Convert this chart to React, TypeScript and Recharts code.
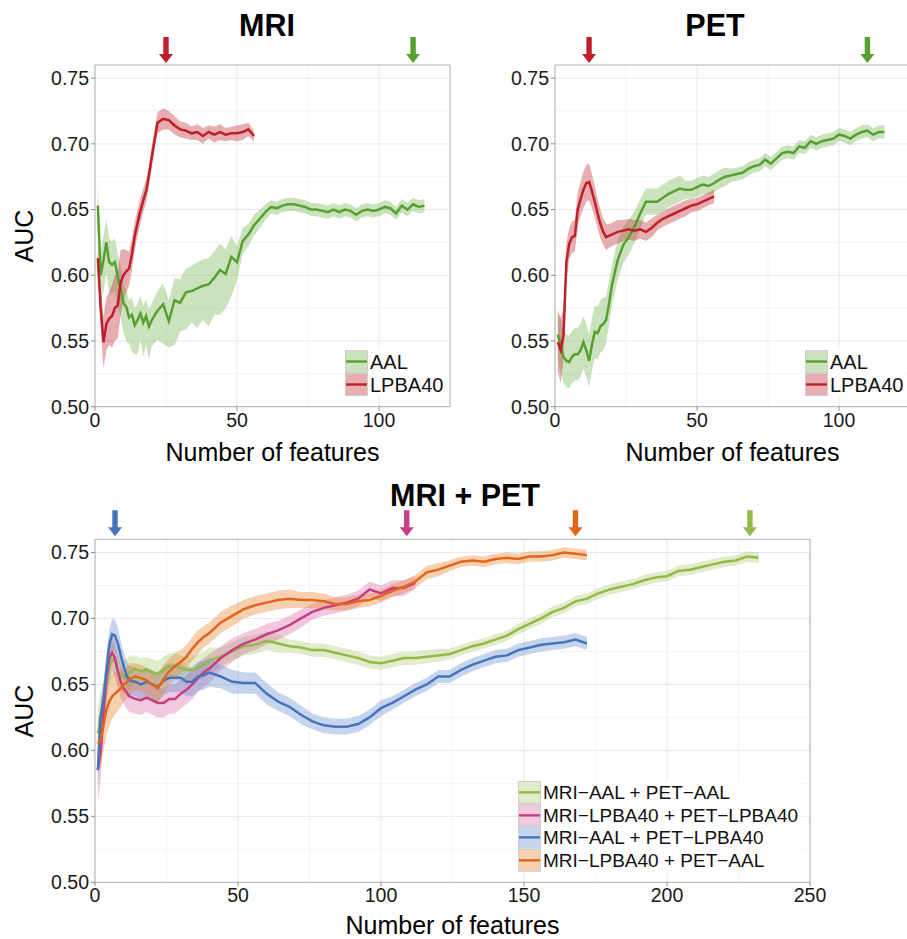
import React from 'react'
import {
  ComposedChart,
  Line,
  Area,
  XAxis,
  YAxis,
  CartesianGrid,
  ReferenceArea,
  ReferenceDot,
} from 'recharts'

const FONT = '"Liberation Sans", Arial, Helvetica, sans-serif'

// Feature counts sampled along the single-modality curves
const singleX = [
  1, 2, 3, 4, 5, 6, 7, 8, 9, 10, 11, 12, 13, 14, 15, 16, 17, 18, 19, 20,
  22, 24, 26, 28, 30, 32, 34, 36, 38, 40, 42, 44, 46, 48, 50, 52, 54, 56, 58, 60,
  62, 64, 66, 68, 70, 72, 74, 76, 78, 80, 82, 84, 86, 88, 90, 92, 94, 96, 98, 100,
  102, 104, 106, 108, 110, 112, 114, 116,
]

// Feature counts sampled along the combined curves
const comboX = [
  1, 2, 3, 4, 5, 6, 7, 8, 9, 10, 11, 12,
  14, 16, 18, 20, 22, 24, 26, 28, 30, 32, 34, 36, 38, 40,
  44, 48, 52, 56, 60, 64, 68, 72, 76, 80, 84, 88, 92, 96, 100, 104, 108, 112, 116, 120,
  124, 128, 132, 136, 140, 144, 148, 152, 156, 160, 164, 168, 172, 176, 180, 184, 188, 192, 196, 200,
  204, 208, 212, 216, 220, 224, 228, 232,
]

// MRI – AAL
const mriAal = [
  0.653, 0.600, 0.612, 0.625, 0.610, 0.608, 0.610, 0.599, 0.590, 0.579, 0.576, 0.568, 0.570, 0.562, 0.566, 0.571, 0.564, 0.569, 0.561, 0.566,
  0.573, 0.578, 0.565, 0.581, 0.579, 0.587, 0.588, 0.590, 0.592, 0.593, 0.598, 0.604, 0.601, 0.614, 0.610, 0.626, 0.631, 0.638, 0.643, 0.648,
  0.652, 0.651, 0.653, 0.654, 0.654, 0.653, 0.652, 0.650, 0.650, 0.649, 0.648, 0.650, 0.648, 0.650, 0.649, 0.646, 0.649, 0.650, 0.649, 0.650,
  0.652, 0.651, 0.647, 0.653, 0.650, 0.654, 0.652, 0.653,
]
const mriAalUp = [
  0.018, 0.018, 0.018, 0.018, 0.018, 0.018, 0.018, 0.018, 0.018, 0.013, 0.013, 0.013, 0.013, 0.013, 0.013, 0.013, 0.013, 0.013, 0.013, 0.013,
  0.015, 0.016, 0.016, 0.017, 0.018, 0.018, 0.019, 0.020, 0.020, 0.020, 0.020, 0.020, 0.019, 0.016, 0.012, 0.010, 0.008, 0.008, 0.007, 0.006,
  0.005, 0.005, 0.005, 0.005, 0.005, 0.005, 0.005, 0.005, 0.005, 0.005, 0.005, 0.005, 0.005, 0.005, 0.005, 0.005, 0.005, 0.005, 0.005, 0.005,
  0.005, 0.005, 0.005, 0.005, 0.005, 0.005, 0.005, 0.005,
]
const mriAalDown = [
  0.018, 0.022, 0.024, 0.024, 0.023, 0.022, 0.022, 0.022, 0.022, 0.022, 0.026, 0.020, 0.028, 0.022, 0.026, 0.020, 0.026, 0.022, 0.025, 0.020,
  0.022, 0.030, 0.020, 0.034, 0.022, 0.028, 0.024, 0.030, 0.026, 0.032, 0.028, 0.034, 0.026, 0.030, 0.014, 0.010, 0.009, 0.008, 0.007, 0.006,
  0.005, 0.005, 0.005, 0.005, 0.005, 0.005, 0.005, 0.005, 0.005, 0.005, 0.005, 0.005, 0.005, 0.005, 0.005, 0.005, 0.005, 0.005, 0.005, 0.005,
  0.005, 0.005, 0.005, 0.005, 0.005, 0.005, 0.005, 0.005,
]

// MRI – LPBA40
const mriLpba = [
  0.613, 0.575, 0.549, 0.563, 0.567, 0.569, 0.575, 0.577, 0.594, 0.600, 0.603, 0.605, 0.616, 0.630, 0.640, 0.649, 0.657, 0.664, 0.676, 0.690,
  0.716, 0.719, 0.718, 0.714, 0.711, 0.710, 0.708, 0.709, 0.706, 0.709, 0.707, 0.709, 0.707, 0.708, 0.708, 0.709, 0.711, 0.706,
]
const mriLpbaW = [
  0.010, 0.015, 0.020, 0.020, 0.020, 0.024, 0.025, 0.025, 0.025, 0.020, 0.016, 0.013, 0.012, 0.011, 0.010, 0.010, 0.009, 0.009, 0.008, 0.008,
  0.008, 0.008, 0.007, 0.007, 0.006, 0.006, 0.005, 0.006, 0.006, 0.005, 0.006, 0.006, 0.005, 0.005, 0.006, 0.006, 0.005, 0.004,
]

// PET – AAL
const petAal = [
  0.555, 0.546, 0.538, 0.535, 0.534, 0.538, 0.540, 0.540, 0.543, 0.549, 0.543, 0.535, 0.547, 0.557, 0.556, 0.561, 0.563, 0.566, 0.578, 0.592,
  0.611, 0.623, 0.629, 0.637, 0.647, 0.656, 0.656, 0.656, 0.659, 0.662, 0.664, 0.666, 0.665, 0.665, 0.667, 0.669, 0.668, 0.670, 0.673, 0.675,
  0.676, 0.677, 0.678, 0.681, 0.683, 0.684, 0.688, 0.685, 0.689, 0.693, 0.694, 0.693, 0.698, 0.697, 0.702, 0.700, 0.702, 0.703, 0.704, 0.707,
  0.706, 0.704, 0.707, 0.709, 0.710, 0.707, 0.709, 0.709,
]
const petAalW = [
  0.020, 0.020, 0.020, 0.020, 0.020, 0.020, 0.020, 0.020, 0.020, 0.020, 0.020, 0.020, 0.020, 0.020, 0.020, 0.020, 0.020, 0.018, 0.017, 0.016,
  0.015, 0.014, 0.013, 0.012, 0.011, 0.010, 0.010, 0.010, 0.010, 0.010, 0.010, 0.010, 0.007, 0.007, 0.007, 0.007, 0.007, 0.007, 0.007, 0.007,
  0.005, 0.005, 0.005, 0.005, 0.005, 0.005, 0.005, 0.005, 0.005, 0.005, 0.005, 0.005, 0.005, 0.005, 0.005, 0.005, 0.005, 0.005, 0.005, 0.005,
  0.005, 0.005, 0.005, 0.005, 0.005, 0.005, 0.005, 0.005,
]

// PET – LPBA40
const petLpba = [
  0.549, 0.543, 0.555, 0.610, 0.624, 0.629, 0.630, 0.650, 0.658, 0.665, 0.670, 0.671, 0.664, 0.656, 0.647, 0.639, 0.633, 0.629, 0.630, 0.631,
  0.633, 0.634, 0.635, 0.634, 0.635, 0.633, 0.636, 0.640, 0.643, 0.645, 0.647, 0.649, 0.651, 0.653, 0.654, 0.656, 0.658, 0.660,
]
const petLpbaW = [
  0.022, 0.025, 0.020, 0.015, 0.012, 0.012, 0.012, 0.013, 0.013, 0.014, 0.014, 0.014, 0.013, 0.012, 0.011, 0.011, 0.010, 0.010, 0.009, 0.009,
  0.009, 0.008, 0.008, 0.008, 0.007, 0.007, 0.007, 0.006, 0.006, 0.006, 0.006, 0.006, 0.006, 0.005, 0.005, 0.005, 0.005, 0.005,
]

// MRI-AAL + PET-AAL
const aalAal = [
  0.613, 0.625, 0.636, 0.650, 0.663, 0.669, 0.667, 0.660, 0.657, 0.656, 0.656, 0.659,
  0.662, 0.660, 0.661, 0.659, 0.658, 0.661, 0.664, 0.664, 0.662, 0.661, 0.661, 0.663, 0.665, 0.668,
  0.671, 0.675, 0.679, 0.680, 0.683, 0.681, 0.679, 0.678, 0.676, 0.676, 0.674, 0.672, 0.670, 0.667, 0.666, 0.668, 0.670, 0.670, 0.671, 0.672,
  0.673, 0.676, 0.679, 0.681, 0.684, 0.687, 0.692, 0.696, 0.700, 0.705, 0.708, 0.713, 0.715, 0.719, 0.722, 0.724, 0.726, 0.729, 0.731, 0.732,
  0.736, 0.737, 0.739, 0.741, 0.743, 0.744, 0.747, 0.746,
]
const aalAalW = [
  0.020, 0.020, 0.018, 0.016, 0.014, 0.013, 0.013, 0.013, 0.013, 0.013, 0.013, 0.013,
  0.010, 0.010, 0.010, 0.010, 0.010, 0.010, 0.010, 0.010, 0.010, 0.010, 0.010, 0.010, 0.010, 0.010,
  0.007, 0.007, 0.007, 0.007, 0.007, 0.007, 0.005, 0.005, 0.005, 0.005, 0.005, 0.005, 0.005, 0.005, 0.005, 0.005, 0.005, 0.005, 0.005, 0.005,
  0.004, 0.004, 0.004, 0.004, 0.004, 0.004, 0.004, 0.004, 0.004, 0.004, 0.004, 0.004, 0.004, 0.004, 0.004, 0.004, 0.004, 0.004, 0.004, 0.004,
  0.004, 0.004, 0.004, 0.004, 0.004, 0.004, 0.004, 0.004,
]

// MRI-LPBA40 + PET-LPBA40
const lpbaLpba = [
  0.585, 0.600, 0.630, 0.655, 0.670, 0.674, 0.670, 0.660, 0.652, 0.647, 0.644, 0.641,
  0.639, 0.638, 0.640, 0.638, 0.636, 0.636, 0.639, 0.639, 0.643, 0.646, 0.650, 0.655, 0.659, 0.662,
  0.670, 0.676, 0.681, 0.684, 0.688, 0.691, 0.695, 0.700, 0.705, 0.708, 0.710, 0.712, 0.715, 0.722, 0.719, 0.723, 0.723, 0.727,
]
const lpbaLpbaW = [
  0.025, 0.022, 0.020, 0.018, 0.016, 0.014, 0.013, 0.012, 0.012, 0.012, 0.012, 0.012,
  0.011, 0.011, 0.011, 0.011, 0.011, 0.011, 0.011, 0.011, 0.011, 0.011, 0.011, 0.011, 0.011, 0.011,
  0.009, 0.009, 0.008, 0.008, 0.008, 0.007, 0.007, 0.007, 0.006, 0.006, 0.006, 0.006, 0.006, 0.006, 0.006, 0.006, 0.006, 0.005,
]

// MRI-AAL + PET-LPBA40
const aalLpba = [
  0.585, 0.626, 0.640, 0.660, 0.680, 0.688, 0.687, 0.681, 0.672, 0.664, 0.657, 0.653,
  0.652, 0.650, 0.652, 0.650, 0.648, 0.653, 0.655, 0.655, 0.655, 0.652, 0.652, 0.656, 0.657, 0.659,
  0.656, 0.652, 0.651, 0.651, 0.643, 0.637, 0.633, 0.627, 0.622, 0.619, 0.618, 0.618, 0.620, 0.625, 0.632, 0.636, 0.641, 0.646, 0.650, 0.656,
  0.656, 0.661, 0.665, 0.668, 0.671, 0.672, 0.676, 0.678, 0.680, 0.681, 0.682, 0.684, 0.681,
]
const aalLpbaW = [
  0.015, 0.012, 0.012, 0.012, 0.012, 0.012, 0.012, 0.012, 0.011, 0.011, 0.011, 0.011,
  0.011, 0.011, 0.011, 0.011, 0.011, 0.011, 0.011, 0.011, 0.011, 0.011, 0.011, 0.011, 0.011, 0.011,
  0.009, 0.009, 0.008, 0.008, 0.008, 0.007, 0.007, 0.007, 0.006, 0.006, 0.006, 0.006, 0.006, 0.006, 0.006, 0.005, 0.005, 0.005, 0.005, 0.005,
  0.005, 0.005, 0.005, 0.005, 0.005, 0.005, 0.005, 0.005, 0.005, 0.005, 0.005, 0.005, 0.005,
]

// MRI-LPBA40 + PET-AAL
const lpbaAal = [
  0.605, 0.608, 0.620, 0.631, 0.637, 0.641, 0.643, 0.645, 0.647, 0.650, 0.651, 0.654,
  0.656, 0.655, 0.653, 0.650, 0.647, 0.654, 0.660, 0.664, 0.667, 0.671, 0.677, 0.682, 0.686, 0.689,
  0.697, 0.702, 0.707, 0.710, 0.712, 0.714, 0.715, 0.714, 0.714, 0.713, 0.711, 0.711, 0.713, 0.714, 0.717, 0.721, 0.724, 0.728, 0.735, 0.737,
  0.740, 0.743, 0.744, 0.743, 0.745, 0.746, 0.745, 0.747, 0.747, 0.748, 0.750, 0.749, 0.748,
]
const lpbaAalW = [
  0.020, 0.020, 0.020, 0.020, 0.018, 0.017, 0.016, 0.015, 0.014, 0.013, 0.012, 0.012,
  0.010, 0.010, 0.010, 0.010, 0.011, 0.011, 0.010, 0.010, 0.009, 0.009, 0.009, 0.009, 0.008, 0.008,
  0.008, 0.008, 0.007, 0.007, 0.007, 0.007, 0.007, 0.006, 0.006, 0.006, 0.005, 0.005, 0.005, 0.005, 0.005, 0.005, 0.005, 0.005, 0.005, 0.005,
  0.004, 0.004, 0.004, 0.004, 0.004, 0.004, 0.004, 0.004, 0.004, 0.004, 0.004, 0.004, 0.004,
]

const aucTicks = [0.5, 0.55, 0.6, 0.65, 0.7, 0.75]
const aucMinor = [0.525, 0.575, 0.625, 0.675, 0.725]
const singleTicks = [0, 50, 100]
const singleMinor = [25, 75, 125]
const comboTicks = [0, 50, 100, 150, 200, 250]
const comboMinor = [25, 75, 125, 175, 225]

// arrows mark the best number of features
const mriArrowX = [25, 112]
const petArrowX = [12, 110]
const comboArrowX = [7, 109, 168, 229]

const GREEN = '#56a02f'
const RED = '#be1f28'
const OLIVE = '#93ba48'
const PINK = '#c73e84'
const BLUE = '#4675be'
const ORANGE = '#e0661b'

interface Series {
  key: string
  name: string
  ys: number[]
  up: number[]
  down?: number[]
  line: string
  band: string
  bandOpacity: number
}

function buildRows(xs: number[], series: Series[]) {
  return xs.map((x, i) => {
    const row: Record<string, unknown> = { x }
    series.forEach((s) => {
      if (i < s.ys.length) {
        const lo = (s.down ?? s.up)[i]
        row[s.key] = s.ys[i]
        row[s.key + 'Band'] = [s.ys[i] - lo, s.ys[i] + s.up[i]]
      }
    })
    return row
  })
}

function arrowShape(color: string, gap: number) {
  return (props: any) => {
    const { cx, cy } = props
    const tip = cy - gap
    const top = tip - 26
    const neck = tip - 9
    const d = `M${cx - 2.7},${top} L${cx + 2.7},${top} L${cx + 2.7},${neck} L${cx + 7},${neck} L${cx},${tip} L${cx - 7},${neck} L${cx - 2.7},${neck} Z`
    return <path d={d} fill={color} />
  }
}

interface PanelProps {
  left: number
  top: number
  width: number
  height: number
  margin: { top: number; right: number; bottom: number; left: number }
  xs: number[]
  series: Series[]
  xMax: number
  xTicks: number[]
  xMinor: number[]
  arrows: { x: number; color: string }[]
  arrowGap: number
}

function Panel(p: PanelProps) {
  const rows = buildRows(p.xs, p.series)
  const tickStyle = { fontSize: 19.5, fill: '#1a1a1a', fontFamily: FONT }
  return (
    <div style={{ position: 'absolute', left: p.left, top: p.top }}>
      <ComposedChart width={p.width} height={p.height} data={rows} margin={p.margin}>
        <CartesianGrid horizontalValues={aucMinor} verticalValues={p.xMinor} stroke="#f4f4f4" />
        <CartesianGrid horizontalValues={aucTicks} verticalValues={p.xTicks} stroke="#e8e8e8" />
        <XAxis
          type="number"
          dataKey="x"
          domain={[0, p.xMax]}
          ticks={p.xTicks}
          allowDataOverflow
          height={30}
          tick={tickStyle}
          tickSize={4}
          tickMargin={2}
          tickLine={{ stroke: '#8a8a8a' }}
          axisLine={false}
        />
        <YAxis
          type="number"
          domain={[0.5, 0.76]}
          ticks={aucTicks}
          allowDataOverflow
          width={60}
          tick={tickStyle}
          tickSize={4}
          tickMargin={2}
          tickLine={{ stroke: '#8a8a8a' }}
          axisLine={false}
          tickFormatter={(v: number) => v.toFixed(2)}
        />
        {p.series.map((s) => (
          <Area
            key={s.key + 'Band'}
            type="linear"
            dataKey={s.key + 'Band'}
            stroke="none"
            fill={s.band}
            fillOpacity={s.bandOpacity}
            isAnimationActive={false}
            activeDot={false}
          />
        ))}
        {p.series.map((s) => (
          <Line
            key={s.key}
            type="linear"
            dataKey={s.key}
            stroke={s.line}
            strokeWidth={2.5}
            dot={false}
            activeDot={false}
            isAnimationActive={false}
          />
        ))}
        <ReferenceArea
          x1={0}
          x2={p.xMax}
          y1={0.5}
          y2={0.76}
          fill="none"
          stroke="#b3b3b3"
          strokeWidth={1}
          ifOverflow="visible"
        />
        {p.arrows.map((a) => (
          <ReferenceDot
            key={a.x}
            x={a.x}
            y={0.76}
            r={0}
            ifOverflow="visible"
            shape={arrowShape(a.color, p.arrowGap)}
          />
        ))}
      </ComposedChart>
    </div>
  )
}

function LegendBox({ left, top, rowH, fontSize, items }: { left: number; top: number; rowH: number; fontSize: number; items: Series[] }) {
  return (
    <div
      style={{
        position: 'absolute',
        left,
        top,
        background: '#fff',
        fontFamily: FONT,
        fontSize,
        color: '#111',
        paddingRight: 3,
      }}
    >
      {items.map((it) => (
        <div key={it.key} style={{ display: 'flex', alignItems: 'center', height: rowH }}>
          <svg width={23} height={rowH} style={{ display: 'block' }}>
            <rect
              x={0.5}
              y={0.5}
              width={22}
              height={rowH - 1}
              fill={it.band}
              fillOpacity={it.bandOpacity}
              stroke="#cfcfcf"
              strokeWidth={1}
            />
            <line x1={1} x2={22} y1={rowH / 2} y2={rowH / 2} stroke={it.line} strokeWidth={2.4} />
          </svg>
          <span style={{ marginLeft: 2, whiteSpace: 'nowrap', lineHeight: 1 }}>{it.name}</span>
        </div>
      ))}
    </div>
  )
}

function Text({ x, y, size, bold, rotate, children }: { x: number; y: number; size: number; bold?: boolean; rotate?: boolean; children: React.ReactNode }) {
  return (
    <div
      style={{
        position: 'absolute',
        left: x,
        top: y,
        transform: `translate(-50%, -50%)${rotate ? ' rotate(-90deg)' : ''}`,
        fontFamily: FONT,
        fontSize: size,
        fontWeight: bold ? 700 : 400,
        lineHeight: 1,
        whiteSpace: 'nowrap',
        color: '#000',
      }}
    >
      {children}
    </div>
  )
}

export default function App() {
  const mriSeries: Series[] = [
    { key: 'aal', name: 'AAL', ys: mriAal, up: mriAalUp, down: mriAalDown, line: GREEN, band: '#6bb043', bandOpacity: 0.35 },
    { key: 'lpba', name: 'LPBA40', ys: mriLpba, up: mriLpbaW, line: RED, band: '#c2343c', bandOpacity: 0.4 },
  ]
  const petSeries: Series[] = [
    { key: 'aal', name: 'AAL', ys: petAal, up: petAalW, line: GREEN, band: '#6bb043', bandOpacity: 0.35 },
    { key: 'lpba', name: 'LPBA40', ys: petLpba, up: petLpbaW, line: RED, band: '#c2343c', bandOpacity: 0.4 },
  ]
  const comboSeries: Series[] = [
    { key: 'aa', name: 'MRI−AAL + PET−AAL', ys: aalAal, up: aalAalW, line: OLIVE, band: '#a5c866', bandOpacity: 0.35 },
    { key: 'll', name: 'MRI−LPBA40 + PET−LPBA40', ys: lpbaLpba, up: lpbaLpbaW, line: PINK, band: '#d760a0', bandOpacity: 0.35 },
    { key: 'al', name: 'MRI−AAL + PET−LPBA40', ys: aalLpba, up: aalLpbaW, line: BLUE, band: '#5b88cc', bandOpacity: 0.35 },
    { key: 'la', name: 'MRI−LPBA40 + PET−AAL', ys: lpbaAal, up: lpbaAalW, line: ORANGE, band: '#ea8a3a', bandOpacity: 0.4 },
  ]
  const singleColors = [RED, GREEN]
  const comboColors = [BLUE, PINK, ORANGE, OLIVE]

  return (
    <div style={{ position: 'absolute', left: 0, top: 0, width: 907, height: 939, overflow: 'hidden', background: '#fff' }}>
      <Panel
        left={0}
        top={0}
        width={460}
        height={470}
        margin={{ top: 65, right: 10, bottom: 33.3, left: 35 }}
        xs={singleX}
        series={mriSeries}
        xMax={125}
        xTicks={singleTicks}
        xMinor={singleMinor}
        arrows={mriArrowX.map((x, i) => ({ x, color: singleColors[i] }))}
        arrowGap={2}
      />
      <Panel
        left={460}
        top={0}
        width={460}
        height={470}
        margin={{ top: 65, right: 10, bottom: 33.3, left: 35 }}
        xs={singleX}
        series={petSeries}
        xMax={125}
        xTicks={singleTicks}
        xMinor={singleMinor}
        arrows={petArrowX.map((x, i) => ({ x, color: singleColors[i] }))}
        arrowGap={2}
      />
      <Panel
        left={0}
        top={470}
        width={907}
        height={469}
        margin={{ top: 69.3, right: 97, bottom: 26.7, left: 35 }}
        xs={comboX}
        series={comboSeries}
        xMax={250}
        xTicks={comboTicks}
        xMinor={comboMinor}
        arrows={comboArrowX.map((x, i) => ({ x, color: comboColors[i] }))}
        arrowGap={3}
      />

      <LegendBox left={345} top={350} rowH={23} fontSize={20} items={mriSeries} />
      <LegendBox left={805} top={350} rowH={23} fontSize={20} items={petSeries} />
      <LegendBox left={518} top={781} rowH={22.7} fontSize={19} items={comboSeries} />

      <Text x={267} y={25} size={30.5} bold>MRI</Text>
      <Text x={715} y={25} size={30.5} bold>PET</Text>
      <Text x={465} y={495} size={30.5} bold>MRI + PET</Text>

      <Text x={24} y={236} size={25} rotate>AUC</Text>
      <Text x={24} y={711} size={25} rotate>AUC</Text>

      <Text x={272.5} y={452} size={25}>Number of features</Text>
      <Text x={732.5} y={452} size={25}>Number of features</Text>
      <Text x={452.5} y={925} size={25}>Number of features</Text>
    </div>
  )
}
